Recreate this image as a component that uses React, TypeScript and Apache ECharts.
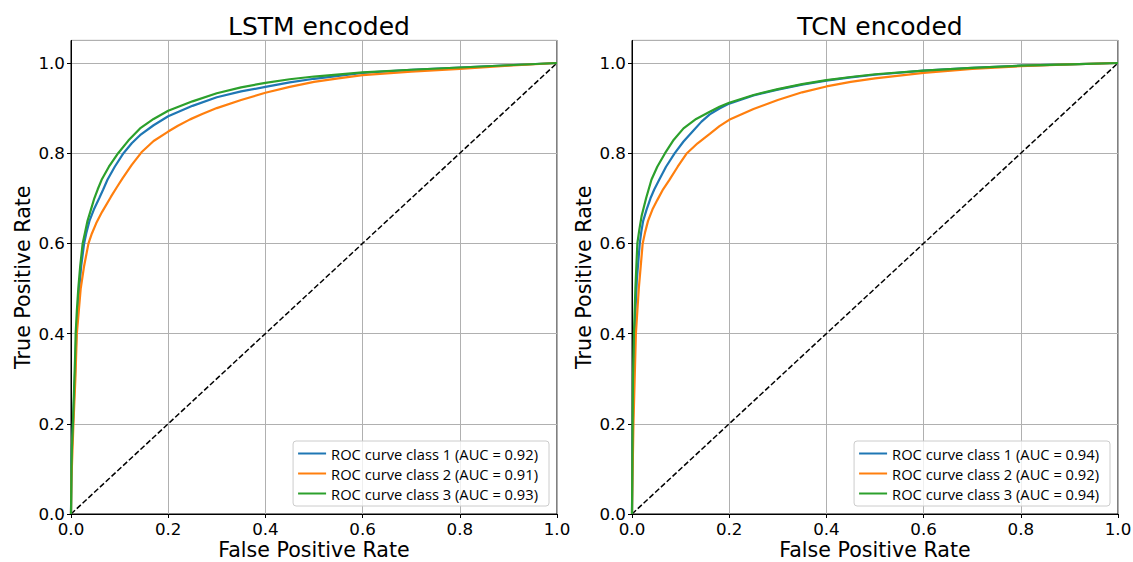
import React, { useEffect, useRef } from "react";
import * as echarts from "echarts";

// ---- Data (FPR, TPR) ----
const lstmClass1: number[][] = [[0,0],[0.0005,0.05],[0.001,0.1],[0.002,0.15],[0.004,0.2],[0.006,0.25],[0.008,0.3],[0.0095,0.35],[0.011,0.4],[0.014,0.45],[0.017,0.5],[0.021,0.55],[0.027,0.6],[0.032,0.625],[0.038,0.65],[0.047,0.675],[0.058,0.7],[0.066,0.719],[0.075,0.741],[0.09,0.77],[0.108,0.8],[0.125,0.822],[0.142,0.84],[0.17,0.862],[0.2,0.882],[0.25,0.905],[0.3,0.924],[0.35,0.937],[0.4,0.947],[0.45,0.957],[0.5,0.965],[0.6,0.978],[0.7,0.985],[0.8,0.99],[0.9,0.995],[1,1]];
const lstmClass2: number[][] = [[0,0],[0.0005,0.04],[0.001,0.08],[0.003,0.14],[0.005,0.2],[0.007,0.25],[0.009,0.3],[0.0105,0.35],[0.012,0.4],[0.016,0.45],[0.02,0.5],[0.027,0.55],[0.036,0.6],[0.043,0.622],[0.052,0.645],[0.064,0.67],[0.082,0.703],[0.094,0.724],[0.106,0.744],[0.125,0.774],[0.145,0.802],[0.17,0.827],[0.2,0.848],[0.22,0.861],[0.245,0.875],[0.27,0.887],[0.3,0.9],[0.35,0.918],[0.4,0.934],[0.45,0.947],[0.5,0.958],[0.55,0.966],[0.6,0.973],[0.7,0.981],[0.8,0.987],[0.9,0.994],[1,1]];
const lstmClass3: number[][] = [[0,0],[0.0005,0.05],[0.001,0.1],[0.002,0.15],[0.004,0.2],[0.0055,0.25],[0.007,0.3],[0.0085,0.35],[0.0096,0.4],[0.012,0.45],[0.015,0.5],[0.019,0.55],[0.024,0.6],[0.029,0.625],[0.034,0.65],[0.041,0.675],[0.048,0.7],[0.055,0.72],[0.063,0.741],[0.078,0.77],[0.097,0.8],[0.118,0.828],[0.142,0.855],[0.17,0.876],[0.2,0.894],[0.25,0.915],[0.3,0.933],[0.35,0.946],[0.4,0.956],[0.45,0.964],[0.5,0.97],[0.6,0.979],[0.7,0.985],[0.8,0.99],[0.9,0.995],[1,1]];

const tcnClass1: number[][] = [[0,0],[0.0005,0.06],[0.001,0.12],[0.002,0.22],[0.003,0.3],[0.0045,0.36],[0.006,0.42],[0.008,0.47],[0.01,0.52],[0.013,0.56],[0.016,0.6],[0.019,0.625],[0.023,0.65],[0.03,0.675],[0.038,0.7],[0.046,0.72],[0.056,0.741],[0.07,0.77],[0.088,0.8],[0.106,0.826],[0.126,0.85],[0.143,0.87],[0.16,0.886],[0.18,0.899],[0.2,0.91],[0.25,0.928],[0.3,0.941],[0.35,0.952],[0.4,0.961],[0.45,0.968],[0.5,0.974],[0.6,0.983],[0.7,0.989],[0.8,0.994],[0.9,0.997],[1,1]];
const tcnClass2: number[][] = [[0,0],[0.0005,0.04],[0.001,0.08],[0.002,0.14],[0.003,0.2],[0.0055,0.3],[0.008,0.4],[0.011,0.45],[0.014,0.5],[0.018,0.55],[0.022,0.6],[0.027,0.625],[0.033,0.65],[0.042,0.675],[0.052,0.696],[0.064,0.72],[0.077,0.741],[0.094,0.77],[0.113,0.8],[0.135,0.822],[0.16,0.843],[0.18,0.86],[0.2,0.874],[0.25,0.898],[0.3,0.918],[0.35,0.935],[0.4,0.948],[0.45,0.958],[0.5,0.966],[0.6,0.978],[0.7,0.987],[0.8,0.993],[0.9,0.997],[1,1]];
const tcnClass3: number[][] = [[0,0],[0.0005,0.08],[0.001,0.15],[0.0015,0.23],[0.002,0.3],[0.003,0.35],[0.004,0.4],[0.0055,0.45],[0.007,0.5],[0.009,0.55],[0.011,0.6],[0.015,0.63],[0.02,0.662],[0.029,0.7],[0.04,0.741],[0.052,0.77],[0.068,0.8],[0.086,0.83],[0.106,0.855],[0.132,0.876],[0.16,0.892],[0.18,0.903],[0.2,0.912],[0.25,0.929],[0.3,0.942],[0.35,0.953],[0.4,0.962],[0.45,0.969],[0.5,0.975],[0.6,0.983],[0.7,0.989],[0.8,0.994],[0.9,0.997],[1,1]];

const diagonal: number[][] = [[0, 0], [1, 1]];

const titles = ["LSTM encoded", "TCN encoded"];
const lstmNames = [
  "ROC curve class 1 (AUC = 0.92)",
  "ROC curve class 2 (AUC = 0.91)",
  "ROC curve class 3 (AUC = 0.93)",
];
const tcnNames = [
  "ROC curve class 1 (AUC = 0.94)",
  "ROC curve class 2 (AUC = 0.92)",
  "ROC curve class 3 (AUC = 0.94)",
];
const colors = ["#1f77b4", "#ff7f0e", "#2ca02c"];

const W = 1133;
const H = 562;
const gridLefts = [71, 632];
const gridTop = 40.45;
const gridW = 486;
const gridH = 473.55;

export default function App() {
  const ref = useRef<HTMLDivElement>(null);
  useEffect(() => {
    if (!ref.current) return;
    const chart = echarts.init(ref.current, null, { renderer: "svg" });
    const tickFont = { fontFamily: "DejaVu Sans", fontSize: 16.7, color: "#000" };
    const nameFont = { fontFamily: "DejaVu Sans", fontSize: 20.6, color: "#000" };
    const fmt = (v: number) => v.toFixed(1);

    const xAxes = gridLefts.map((_, i) => ({
      type: "value",
      gridIndex: i,
      min: 0,
      max: 1,
      interval: 0.2,
      name: "False Positive Rate",
      nameLocation: "middle",
      nameGap: 25,
      nameMoveOverlap: false,
      nameTextStyle: nameFont,
      axisLine: { show: true, onZero: false, lineStyle: { color: "#000", width: 1 } },
      axisTick: { show: true, inside: false, length: 4, lineStyle: { color: "#000" } },
      axisLabel: { ...tickFont, margin: 6, formatter: fmt },
      splitLine: { show: true, lineStyle: { color: "#b0b0b0", width: 1 } },
    }));
    const yAxes = gridLefts.map((_, i) => ({
      type: "value",
      gridIndex: i,
      min: 0,
      max: 1.05,
      interval: 0.2,
      name: "True Positive Rate",
      nameLocation: "middle",
      nameGap: 38,
      nameTextStyle: nameFont,
      axisLine: { show: true, onZero: false, lineStyle: { color: "#000", width: 1 } },
      axisTick: { show: true, inside: false, length: 4, lineStyle: { color: "#000" } },
      axisLabel: { ...tickFont, margin: 6, formatter: fmt, showMaxLabel: false },
      splitLine: { show: true, lineStyle: { color: "#b0b0b0", width: 1 } },
    }));

    const mkSeries = (data: number[][], name: string, color: string, idx: number) => ({
      type: "line",
      name,
      data,
      xAxisIndex: idx,
      yAxisIndex: idx,
      symbol: "none",
      showSymbol: false,
      color,
      lineStyle: { color, width: 2.2 },
      z: 3,
    });
    const diagSeries = (idx: number) => ({
      type: "line",
      name: "diag" + idx,
      data: diagonal,
      xAxisIndex: idx,
      yAxisIndex: idx,
      symbol: "none",
      showSymbol: false,
      lineStyle: { color: "#000", width: 1.5, type: [5.5, 2.4] },
      z: 2,
    });

    const lstmData = [lstmClass1, lstmClass2, lstmClass3];
    const tcnData = [tcnClass1, tcnClass2, tcnClass3];

    const legendBase = {
      orient: "vertical",
      bottom: 56,
      icon: "rect",
      itemWidth: 28,
      itemHeight: 2,
      itemGap: 5,
      padding: [5, 11, 5, 5],
      backgroundColor: "rgba(255,255,255,0.8)",
      borderColor: "#cccccc",
      borderWidth: 1,
      borderRadius: 3,
      selectedMode: false,
      textStyle: { fontFamily: "Open Sans", fontSize: 14.7, color: "#000" },
    };

    chart.setOption({
      animation: false,
      backgroundColor: "#fff",
      title: titles.map((t, i) => ({
        text: t,
        left: gridLefts[i] + gridW / 2,
        textAlign: "center",
        top: 9,
        textStyle: { fontFamily: "DejaVu Sans", fontSize: 25, fontWeight: "normal", color: "#000" },
      })),
      grid: gridLefts.map((l) => ({
        left: l,
        top: gridTop,
        width: gridW,
        height: gridH,
        show: true,
        borderColor: "#000",
        borderWidth: 1,
        backgroundColor: "transparent",
        containLabel: false,
        outerBoundsMode: "none",
      })),
      legend: [
        { ...legendBase, right: W - 549, data: lstmNames },
        { ...legendBase, right: W - 1110, data: tcnNames },
      ],
      xAxis: xAxes,
      yAxis: yAxes,
      series: [
        diagSeries(0),
        ...lstmData.map((d, k) => mkSeries(d, lstmNames[k], colors[k], 0)),
        diagSeries(1),
        ...tcnData.map((d, k) => mkSeries(d, tcnNames[k], colors[k], 1)),
      ],
    });
    return () => chart.dispose();
  }, []);
  return (
    <div
      ref={ref}
      style={{ position: "absolute", left: 0, top: 0, width: W, height: H }}
    />
  );
}
